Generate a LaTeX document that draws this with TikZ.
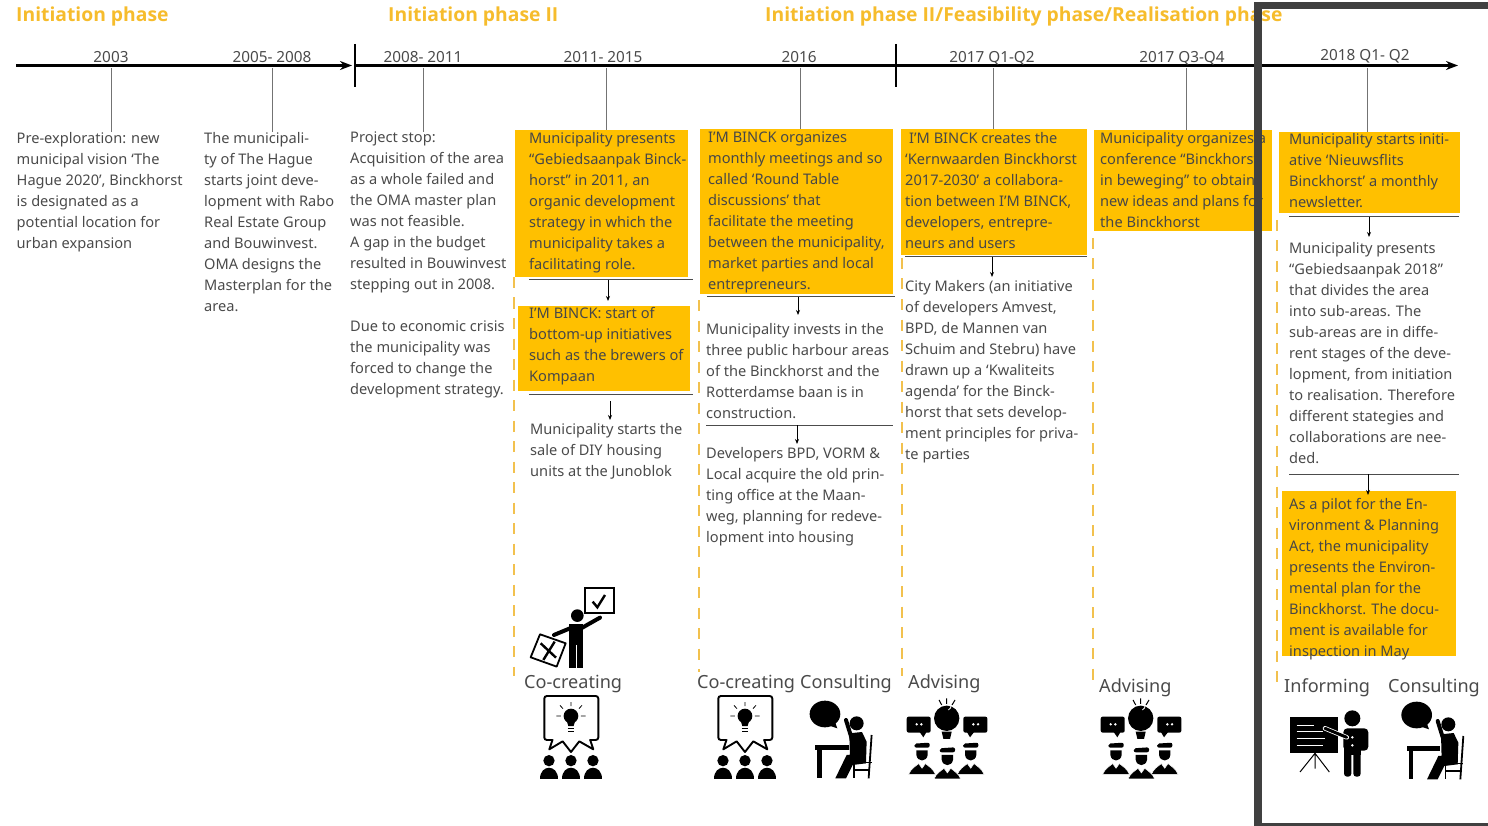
\documentclass[tikz,border=0pt]{standalone}
\usepackage{fontspec}
\setmainfont{Noto Sans}
\newfontfamily\phasefont{Open Sans}
\usetikzlibrary{arrows.meta}
\definecolor{panelyellow}{HTML}{FFC000}
\definecolor{titleyellow}{HTML}{F6BC2C}
\definecolor{dashyellow}{HTML}{F2C14E}
\definecolor{framegrey}{HTML}{404040}
\definecolor{bodygrey}{HTML}{4A4A4A}
\tikzset{
	txt/.style={anchor=north west,yshift=-4.5pt,inner sep=0pt,align=left,text=bodygrey,font=\fontsize{14.6}{21}\selectfont},
	paneltxt/.style={txt,text=black!72},
	panel/.style={anchor=north west,inner sep=0pt,fill=panelyellow},
	year/.style={anchor=base,inner sep=0pt,text=bodygrey,font=\fontsize{15.3}{16}\selectfont},
	phase/.style={anchor=base west,inner sep=0pt,text=titleyellow,font=\phasefont\fontsize{19.3}{20}\selectfont\bfseries},
	role/.style={anchor=base west,inner sep=0pt,text=bodygrey,font=\fontsize{18.1}{20}\selectfont},
	axis/.style={black,line width=2.6pt,-{Stealth[length=12pt,width=9pt]}},
	tick/.style={black,line width=1.6pt},
	stem/.style={black!55,line width=1pt},
	sep/.style={black!70,line width=1pt},
	down/.style={black,line width=.9pt,shorten >=3pt,-{Stealth[length=5pt,width=4pt]}},
	phasedash/.style={dashyellow,line width=2pt,dash pattern=on 11pt off 9.5pt},
	board/.pic={
		\foreach \x in {14,80,146}{
			\fill (\x,194) circle (17);
			\fill ({\x-27},250) .. controls ({\x-27},205) and ({\x+27},205) .. ({\x+27},250) -- cycle;
		}
		\draw[line width=1.9pt,fill=white,line join=round] (25,130) -- (15,160) -- (55,136) -- (80,168) -- (105,136) -- (147,160) -- (137,130);% Tails
		\draw[line width=1.9pt,rounded corners=2.5pt] (25,132) -- (0,132) -- (0,0) -- (162,0) -- (162,132) -- (137,132);% Bubble
		\fill (80,60) circle (22);
		\fill (66,70) -- (94,70) -- (88,90) -- (72,90) -- cycle;
		\draw[line width=.7pt] (70,97) -- (90,97) (72,105) -- (88,105);
		\draw[line width=.8pt] (80,18) -- (80,30) (47,28) -- (56,38) (113,28) -- (104,38) (36,60) -- (50,60) (110,60) -- (124,60);% Rays
	},
	consult/.pic={
		\fill (47,42) ellipse (46 and 40);
		\fill (55,75) -- (84,85) -- (75,60) -- cycle;
		\fill (142,70) circle (21);
		\draw[line width=4pt,line cap=round] (128,118) -- (110,60);% Arm
		\fill (120,100) -- (158,96) -- (172,125) -- (170,190) -- (122,175) -- cycle;
		\fill (165,160) -- (112,165) -- (78,235) -- (110,235) -- (130,195) -- (170,190) -- cycle;% Leg
		\fill (17,135) rectangle (118,150);% Table
		\fill (24,150) rectangle (37,235);
		\draw[line width=1.8pt] (187,105) -- (178,235);% Chair
		\draw[line width=1.5pt] (134,187) -- (187,187) (134,187) -- (134,235) (134,210) -- (180,210);
	},
	advise/.pic={
		\fill (120,60) circle (38);
		\draw[white,line width=.8pt] (125,35) arc (70:-20:12);
		\fill (105,100) -- (135,100) -- (130,122) -- (110,122) -- cycle;
		\draw[line width=1pt] (120,0) -- (120,17) (97,5) -- (105,20) (145,5) -- (136,20);% Rays
		\fill[rounded corners=2pt] (0,55) rectangle (72,103);
		\fill (38,100) -- (50,117) -- (60,100) -- cycle;
		\fill[rounded corners=2pt] (170,55) rectangle (242,103);
		\fill (180,100) -- (190,117) -- (203,100) -- cycle;
		\fill[white] (30,78) circle (4) (44,78) circle (4) (200,78) circle (4) (214,78) circle (4);
		\foreach \x/\y in {46/0,192/0,122/14}{
			\fill[rounded corners=2pt] ({\x-23},{136+\y}) -- ({\x+23},{133+\y}) -- ({\x+23},{148+\y}) -- ({\x-23},{148+\y}) -- cycle;% Hat
			\fill ({\x-17},{156+\y}) -- ({\x+17},{156+\y}) -- ({\x+17},{170+\y}) .. controls ({\x+14},{192+\y}) and ({\x-14},{192+\y}) .. ({\x-17},{170+\y}) -- cycle;% Face
			\draw[white,line width=.5pt,fill=black] ({\x-40},{228+\y}) .. controls ({\x-34},{212+\y}) and ({\x-20},{204+\y}) .. ({\x-10},{196+\y}) -- ({\x},{210+\y}) -- ({\x+10},{196+\y}) .. controls ({\x+20},{204+\y}) and ({\x+34},{212+\y}) .. ({\x+40},{228+\y}) -- cycle;% Body
		}
	},
	inform/.pic={
		\fill (0,22) rectangle (145,130);% Board
		\draw[white,line width=.9pt] (20,45) -- (72,45) (20,65) -- (100,65) (20,85) -- (105,85) (20,105) -- (100,105);
		\draw[line width=1pt] (75,130) -- (30,186) (75,130) -- (75,176) (75,130) -- (118,186);% Stand
		\fill (187,25) circle (24);
		\fill[rounded corners=4pt] (160,55) rectangle (235,122);
		\fill[rounded corners=3pt] (162,80) rectangle (184,200);% Legs
		\fill[rounded corners=3pt] (190,80) rectangle (212,200);
		\fill (162,80) rectangle (212,135);
		\draw[white,line width=4.6pt,line cap=round] (170,82) -- (105,55);% Arm
		\draw[black,line width=3pt,line cap=round] (170,82) -- (105,55);
		\fill[white] (187,82) circle (4) (187,106) circle (4);
	},
	voter/.pic={
		\draw[line width=1.8pt] (165,0) rectangle (253,73);% Tick box
		\draw[line width=2.4pt] (188,40) -- (202,57) -- (225,20);
		\fill (142,82) circle (19);
		\draw[line width=4pt,line cap=round] (150,122) -- (210,88);% Arms
		\draw[line width=4pt,line cap=round] (125,118) -- (72,140);
		\fill (116,108) -- (160,108) -- (160,240) -- (116,240) -- cycle;% Body
		\draw[white,line width=.9pt] (138,170) -- (138,242);
		\draw[line width=1.8pt,line join=round] (30,138) -- (107,165) -- (80,235) -- (2,207) -- cycle;% Cross box
		\draw[line width=2.4pt] (32,165) -- (78,208) (74,160) -- (40,215);
	}
}
\begin{document}
\begin{tikzpicture}[x=1pt,y=-1pt]
\useasboundingbox (0,0) rectangle (1488,826);
\coordinate (O) at (16,65.5);
\coordinate (A) at (352,65.5);
\coordinate (B) at (355,65.5);
\coordinate (C) at (1458,65.5);
\coordinate (T1) at (355,44);
\coordinate (T2) at (355,87);
\coordinate (T3) at (896,44);
\coordinate (T4) at (896,87);
% Phases
\node (P1) [phase] at (16,22) {Initiation phase};
\node (P2) [phase] at (388,22) {Initiation phase II};
\node (P3) [phase] at (765,22) {Initiation phase II/Feasibility phase/Realisation phase};
% Dashed phase rules
\coordinate (D1) at (514,277);\coordinate (D2) at (514,676);
\coordinate (D3) at (699,300);\coordinate (D4) at (699,672);
\coordinate (D5) at (902,258);\coordinate (D6) at (902,676);
\coordinate (D7) at (1093,238);\coordinate (D8) at (1093,683);
\coordinate (D9) at (1277,220);\coordinate (D10) at (1277,682);
\draw[phasedash] (D1) -- (D2);
\draw[phasedash] (D3) -- (D4);
\draw[phasedash] (D5) -- (D6);
\draw[phasedash] (D7) -- (D8);
\draw[phasedash] (D9) -- (D10);
% Yellow panels
\node (B1) [panel,minimum width=173pt,minimum height=147pt] at (515,130) {};
\node (B2) [panel,minimum width=172pt,minimum height=85pt] at (518,306) {};
\node (B3) [panel,minimum width=193pt,minimum height=165pt] at (700,129) {};
\node (B4) [panel,minimum width=186pt,minimum height=126pt] at (901,129) {};
\node (B5) [panel,minimum width=178pt,minimum height=101pt] at (1094,130) {};
\node (B6) [panel,minimum width=181pt,minimum height=81pt] at (1279,132) {};
\node (B7) [panel,minimum width=174pt,minimum height=165pt] at (1282,491) {};
% Timeline
\draw[axis] (O) -- (A);
\draw[axis] (B) -- (C);
\draw[tick] (T1) -- (T2);
\draw[tick] (T3) -- (T4);
\node (Y1) [year] at (111,63) {2003};
\node (Y2) [year] at (272,63) {2005- 2008};
\node (Y3) [year] at (423,63) {2008- 2011};
\node (Y4) [year] at (603,63) {2011- 2015};
\node (Y5) [year] at (799,63) {2016};
\node (Y6) [year] at (992,63) {2017 Q1-Q2};
\node (Y7) [year] at (1182,63) {2017 Q3-Q4};
\node (Y8) [year] at (1365,61) {2018 Q1- Q2};
% Column texts
\node (L1) [txt] at (16.5,127.5) {Pre-exploration: new\\municipal vision ‘The\\Hague 2020’, Binckhorst\\is designated as a\\potential location for\\urban expansion};
\node (L2) [txt] at (204,127.5) {The municipali-\\ty of The Hague\\starts joint deve-\\lopment with Rabo\\Real Estate Group\\and Bouwinvest.\\OMA designs the\\Masterplan for the\\area.};
\node (L3) [txt] at (350,127.5) {Project stop:\\Acquisition of the area\\as a whole failed and\\the OMA master plan\\was not feasible.\\A gap in the budget\\resulted in Bouwinvest\\stepping out in 2008.\\[21pt]Due to economic crisis\\the municipality was\\forced to change the\\development strategy.};
\node (M1) [paneltxt] at (529,127.5) {Municipality presents\\“Gebiedsaanpak Binck-\\horst” in 2011, an\\organic development\\strategy in which the\\municipality takes a\\facilitating role.};
\node (M2) [paneltxt] at (529,302.5) {I’M BINCK: start of\\bottom-up initiatives\\such as the brewers of\\Kompaan};
\node (M3) [txt] at (530,418.5) {Municipality starts the\\sale of DIY housing\\units at the Junoblok};
\node (N1) [paneltxt] at (708,127.5) {I’M BINCK organizes\\monthly meetings and so\\called ‘Round Table\\discussions’ that\\facilitate the meeting\\between the municipality,\\market parties and local\\entrepreneurs.};
\node (N2) [txt] at (706,318.5) {Municipality invests in the\\three public harbour areas\\of the Binckhorst and the\\Rotterdamse baan is in\\construction.};
\node (N3) [txt] at (706,442.5) {Developers BPD, VORM \&\\Local acquire the old prin-\\ting office at the Maan-\\weg, planning for redeve-\\lopment into housing};
\node (Q1) [paneltxt] at (905,127.5) {\hspace{4pt}I’M BINCK creates the\\‘Kernwaarden Binckhorst\\2017-2030’ a collabora-\\tion between I’M BINCK,\\developers, entrepre-\\neurs and users};
\node (Q2) [txt] at (905,275.5) {City Makers (an initiative\\of developers Amvest,\\BPD, de Mannen van\\Schuim and Stebru) have\\drawn up a ‘Kwaliteits\\agenda’ for the Binck-\\horst that sets develop-\\ment principles for priva-\\te parties};
\node (R1) [paneltxt] at (1100,127.5) {Municipality organizes a\\conference “Binckhorst\\in beweging” to obtain\\new ideas and plans for\\the Binckhorst};
\node (S1) [paneltxt] at (1289,128.5) {Municipality starts initi-\\ative ‘Nieuwsflits\\Binckhorst’ a monthly\\newsletter.};
\node (S2) [txt] at (1289,237.5) {Municipality presents\\“Gebiedsaanpak 2018”\\that divides the area\\into sub-areas. The\\sub-areas are in diffe-\\rent stages of the deve-\\lopment, from initiation\\to realisation. Therefore\\different stategies and\\collaborations are nee-\\ded.};
\node (S3) [paneltxt] at (1289,493.5) {As a pilot for the En-\\vironment \& Planning\\Act, the municipality\\presents the Environ-\\mental plan for the\\Binckhorst. The docu-\\ment is available for\\inspection in May};
% Stems from the axis
\coordinate (E1) at (111,68);
\coordinate (E2) at (272,68);
\coordinate (E3) at (423,68);
\coordinate (E4) at (606,68);
\coordinate (E5) at (800,68);
\coordinate (E6) at (993,68);
\coordinate (E7) at (1186,68);
\coordinate (E8) at (1367,68);
\draw[stem] (E1) -- (E1 |- L1.north);
\draw[stem] (E2) -- (E2 |- L2.north);
\draw[stem] (E3) -- (E3 |- L3.north);
\draw[stem] (E4) -- (E4 |- B1.north);
\draw[stem] (E5) -- (E5 |- B3.north);
\draw[stem] (E6) -- (E6 |- B4.north);
\draw[stem] (E7) -- (E7 |- B5.north);
\draw[stem] (E8) -- (E8 |- B6.north);
% Rules and arrows between the blocks
\coordinate (U1) at (529,280);\coordinate (U2) at (693,280);\coordinate (V1) at (608,280);
\coordinate (U3) at (529,394);\coordinate (U4) at (693,394);\coordinate (V2) at (610,401);
\coordinate (U5) at (707,297);\coordinate (U6) at (895,297);\coordinate (V3) at (798,297);
\coordinate (U7) at (706,425);\coordinate (U8) at (893,425);\coordinate (V4) at (797,425);
\coordinate (U9) at (905,257);\coordinate (U10) at (1087,257);\coordinate (V5) at (992,257);
\coordinate (U11) at (1289,217);\coordinate (U12) at (1459,217);\coordinate (V6) at (1369,217);
\coordinate (U13) at (1289,474);\coordinate (U14) at (1459,474);\coordinate (V7) at (1368,474);
\draw[sep] (U1) -- (U2);
\draw[sep] (U3) -- (U4);
\draw[sep] (U5) -- (U6);
\draw[sep] (U7) -- (U8);
\draw[sep] (U9) -- (U10);
\draw[sep] (U11) -- (U12);
\draw[sep] (U13) -- (U14);
\draw[down,shorten >=5pt] (V1) -- (V1 |- B2.north);
\draw[down] (V2) -- (V2 |- M3.north);
\draw[down,shorten >=8pt] (V3) -- (V3 |- N2.north);
\draw[down] (V4) -- (V4 |- N3.north);
\draw[down] (V5) -- (V5 |- Q2.north);
\draw[down,shorten >=5pt] (V6) -- (V6 |- S2.north);
\draw[down,shorten >=-4pt] (V7) -- (V7 |- B7.north);
% Roles and icons
\node (G1) [role] at (524,688) {Co-creating};
\node (G2) [role] at (697,688) {Co-creating};
\node (G3) [role] at (800,688) {Consulting};
\node (G4) [role] at (908,688) {Advising};
\node (G5) [role] at (1099,692.5) {Advising};
\node (G6) [role] at (1284,692.5) {Informing};
\node (G7) [role] at (1388,692.5) {Consulting};
\pic[scale=.3333] at (530,588.3) {voter};
\pic[scale=.3333] at (544.3,696) {board};
\pic[scale=.3333] at (718.3,696) {board};
\pic[scale=.3333] at (809.3,700) {consult};
\pic[scale=.3333] at (906.7,698.3) {advise};
\pic[scale=.3333] at (1100.7,698.3) {advise};
\pic[scale=.3333] at (1290,710) {inform};
\pic[scale=.3333] at (1401,701) {consult};
% Frame
\draw[framegrey,line width=7.8pt] (1258.3,5.5) rectangle (1500,826.6);
\end{tikzpicture}
\end{document}
